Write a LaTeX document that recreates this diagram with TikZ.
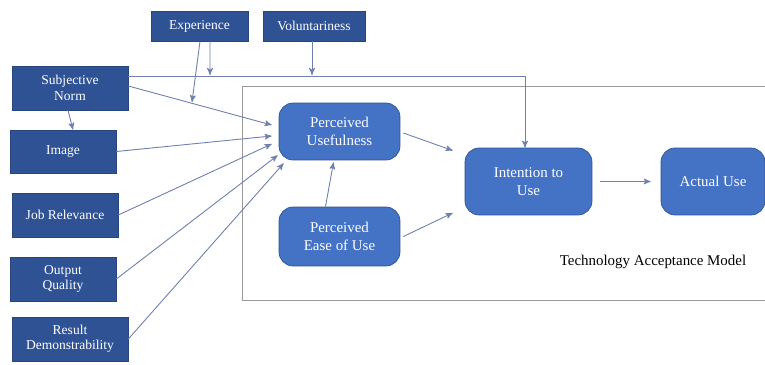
\documentclass[tikz,border=0pt]{standalone}
\usepackage{fontspec}
\setmainfont{Liberation Serif}
\definecolor{outerblue}{HTML}{2E5293}
\definecolor{tamblue}{HTML}{4472C4}
\definecolor{linkgray}{HTML}{6E7FB0}
\tikzset{
  boxnode/.style = {align=center, inner sep=0pt, text centered, white},
  ext_b/.style = {boxnode, rectangle, fill=outerblue, draw=outerblue!85!black,
    font=\fontsize{7.7}{8.8}\selectfont},% facteurs externes
  tam_b/.style = {boxnode, rectangle, rounded corners=8pt, fill=tamblue,
    draw=outerblue, font=\fontsize{8.5}{10.5}\selectfont},% noeuds du modele
  link/.style = {->, >=stealth', draw=linkgray, line width=0.5pt}
}
\usetikzlibrary{arrows}

\begin{document}
\begin{tikzpicture}[x=0.02cm, y=-0.02cm]
\clip (0,0) rectangle (765,365);
\fill[white] (0,0) rectangle (765,365);
% cadre du modele
\draw[gray!80, thin] (242,86) rectangle (775,300);
\node[font=\fontsize{8.5}{10}\selectfont] (tamlbl) at (653,262) {Technology Acceptance Model};
% facteurs externes
\node [ext_b, minimum width=1.94cm, minimum height=0.6cm] (exp) at (199.5,26) {Experience};
\node [ext_b, minimum width=2.04cm, minimum height=0.6cm] (vol) at (314,26) {Voluntariness};
\node [ext_b, minimum width=2.32cm, minimum height=0.88cm] (sn) at (70,88) {Subjective\\Norm};
\node [ext_b, minimum width=2.12cm, minimum height=0.86cm] (img) at (63,151.5) {Image};
\node [ext_b, minimum width=2.12cm, minimum height=0.88cm] (job) at (65,215) {Job Relevance};
\node [ext_b, minimum width=2.12cm, minimum height=0.88cm] (out) at (63,279) {Output\\Quality};
\node [ext_b, minimum width=2.32cm, minimum height=0.88cm] (res) at (70,339) {Result\\Demonstrability};
% modele
\node [tam_b, minimum width=2.42cm, minimum height=1.14cm] (pu) at (339.5,131.5) {Perceived\\Usefulness};
\node [tam_b, minimum width=2.42cm, minimum height=1.18cm] (peu) at (339.5,236.5) {Perceived\\Ease of Use};
\node [tam_b, minimum width=2.54cm, minimum height=1.34cm] (iu) at (528.5,181.5) {Intention to\\Use};
\node [tam_b, minimum width=2.08cm, minimum height=1.34cm] (au) at (713,181.5) {Actual Use};
% points de jonction
\coordinate (jn) at (525,76);
\coordinate (expj) at (210,75);
\coordinate (volj) at (312,75);
\coordinate (snj) at (192,102);
% liens
\draw[draw=linkgray, line width=0.5pt] ([shift={(0,-12)}]sn.east) -- (jn);
\draw[link] (jn) -- (jn |- iu.north);
\draw[link] ([shift={(10.5,0)}]exp.south) -- (expj);
\draw[link] ([shift={(-2,0)}]vol.south) -- (volj);
\draw[link] ([shift={(0.5,0)}]exp.south) -- (snj);
\draw[link] ([shift={(0,-2)}]sn.east) -- ([shift={(-7,-6.5)}]pu.west);
\draw[link] (sn.south) ++(-2,0) -- ([shift={(10,0)}]img.north);
\draw[link] (img.east) -- ([shift={(-7,4.5)}]pu.west);
\draw[link] (job.east) -- ([shift={(-7,12.5)}]pu.west);
\draw[link] (out.east) -- ([shift={(-1,-5)}]pu.south west);
\draw[link] (res.east) -- ([shift={(5,3)}]pu.south west);
\draw[link] ([shift={(-14,0)}]peu.north) -- ([shift={(-6,2)}]pu.south);
\draw[link] ([shift={(3,1.5)}]pu.east) -- ([shift={(-12,-31)}]iu.west);
\draw[link] ([shift={(3,0)}]peu.east) -- ([shift={(-12,31.5)}]iu.west);
\draw[link] ([shift={(8,0)}]iu.east) -- ([shift={(-10,0)}]au.west);
\end{tikzpicture}
\end{document}
